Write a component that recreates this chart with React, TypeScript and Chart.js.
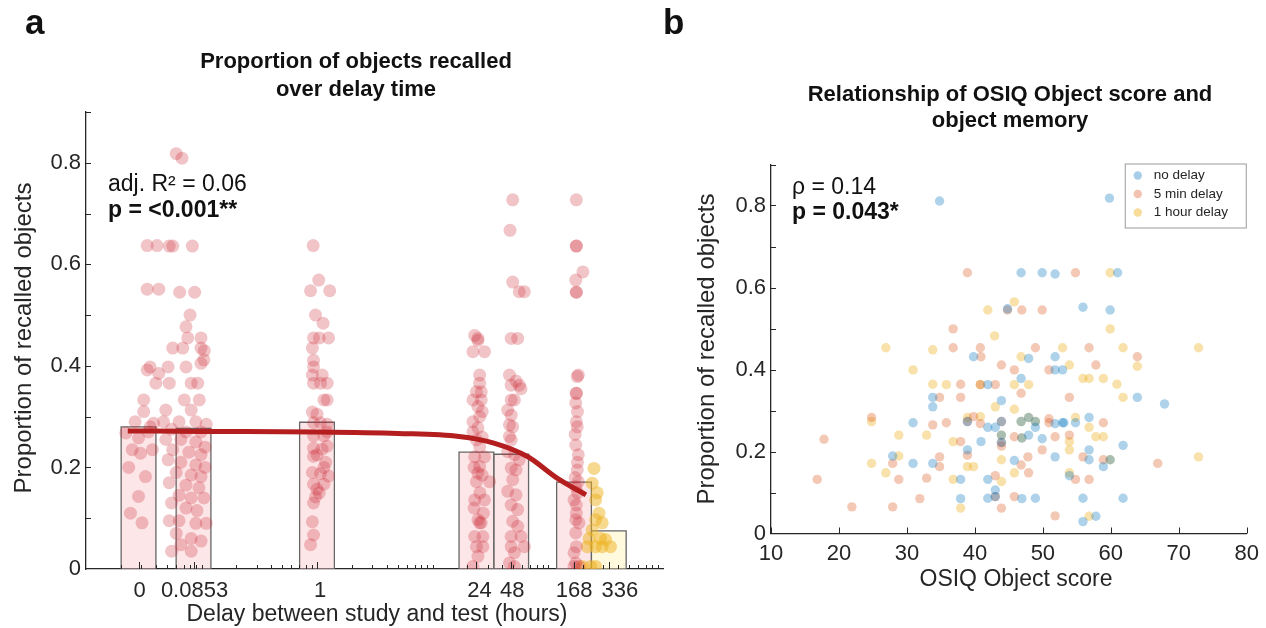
import React, { useEffect, useRef } from "react";
import { Chart, registerables } from "chart.js";

Chart.register(...registerables);

// ================= Panel a data =================
const DELAY_LABELS = ["0", "0.0853", "1", "24", "48", "168", "336"];
const DELAY_HOURS = [0, 0.0853, 1, 24, 48, 168, 336];
const ZERO_HOURS_POSITION = 0.0285; // where the "0" group sits on the log axis
const MEAN_RECALL = [0.28, 0.277, 0.289, 0.23, 0.226, 0.171, 0.075];
const Y_TICKS = [0, 0.2, 0.4, 0.6, 0.8];
const Y_MINOR_TICKS = [0.1, 0.2, 0.3, 0.4, 0.5, 0.6, 0.7, 0.8, 0.9];

// individual participants: [horizontal jitter (decades), proportion recalled]
const DOTS_0H = [
  [0.075, 0.637], [0.16, 0.637], [0.075, 0.551], [0.175, 0.551], [0.1, 0.398], [0.075, 0.392],
  [0.175, 0.385], [0.15, 0.366], [0.045, 0.333], [0.045, 0.31], [-0.11, 0.268], [-0.055, 0.235],
  [0.017, 0.228], [0, 0.258], [0.12, 0.235], [0.06, 0.182], [0, 0.143], [-0.07, 0.11],
  [0.03, 0.091], [0.13, 0.287], [-0.085, 0.2], [0.085, 0.27], [0.1, 0.28], [-0.03, 0.29],
];
const DOTS_0085H = [
  [-0.15, 0.818], [-0.1, 0.809], [-0.21, 0.636], [-0.18, 0.636], [-0.01, 0.636], [-0.12, 0.545],
  [0.01, 0.545], [-0.03, 0.5], [-0.065, 0.477], [-0.05, 0.455], [0.065, 0.455], [-0.18, 0.435],
  [-0.093, 0.435], [0.065, 0.435], [0.093, 0.43], [-0.22, 0.398], [-0.065, 0.398], [0.065, 0.405],
  [0.09, 0.412], [-0.21, 0.366], [-0.02, 0.366], [0.036, 0.366], [-0.08, 0.333], [0.05, 0.333],
  [-0.24, 0.313], [-0.02, 0.313], [-0.26, 0.29], [-0.125, 0.29], [0.02, 0.29], [0.11, 0.285],
  [-0.19, 0.275], [-0.065, 0.27], [0.065, 0.27], [-0.24, 0.255], [-0.11, 0.255], [0.02, 0.25],
  [0.1, 0.24], [-0.18, 0.235], [-0.04, 0.23], [0.065, 0.225], [-0.22, 0.215], [-0.11, 0.21],
  [0.02, 0.205], [0.1, 0.2], [-0.15, 0.19], [-0.02, 0.185], [0.065, 0.182], [-0.21, 0.17],
  [-0.065, 0.165], [0.047, 0.16], [-0.125, 0.145], [-0.02, 0.14], [0.09, 0.14], [-0.19, 0.13],
  [-0.065, 0.12], [0.03, 0.115], [-0.21, 0.095], [-0.125, 0.095], [0.02, 0.09], [0.11, 0.09],
  [-0.15, 0.07], [-0.02, 0.06], [0.065, 0.055], [-0.11, 0.048], [-0.02, 0.035], [-0.19, 0.035],
];
const DOTS_1H = [
  [-0.033, 0.637], [0.015, 0.569], [-0.056, 0.548], [0.11, 0.548], [-0.013, 0.5], [0.053, 0.484],
  [-0.03, 0.455], [0.02, 0.455], [0.1, 0.455], [-0.04, 0.435], [-0.03, 0.411], [-0.03, 0.398],
  [-0.04, 0.382], [0.045, 0.382], [-0.03, 0.366], [0.088, 0.366], [0.03, 0.366], [0.088, 0.333],
  [0.06, 0.333], [-0.04, 0.309], [0, 0.305], [-0.03, 0.288], [0.03, 0.288], [0.088, 0.285],
  [-0.03, 0.262], [0.06, 0.262], [0.088, 0.27], [-0.03, 0.238], [0.045, 0.236], [0.088, 0.242],
  [0, 0.225], [-0.03, 0.222], [-0.04, 0.19], [0.03, 0.188], [0.1, 0.183], [-0.03, 0.167],
  [0.06, 0.167], [0, 0.157], [-0.013, 0.142], [-0.03, 0.13], [-0.04, 0.093], [-0.03, 0.067],
  [-0.056, 0.048], [0.06, 0.2], [0.075, 0.21], [0.02, 0.15],
];
const DOTS_24H = [
  [0.013, 0.454], [-0.015, 0.46], [0.013, 0.45], [-0.03, 0.428], [0.07, 0.428], [0.028, 0.382],
  [0.028, 0.366], [0, 0.349], [0.042, 0.349], [-0.03, 0.333], [0.042, 0.333], [0.013, 0.32],
  [0.028, 0.3], [0.013, 0.278], [0, 0.254], [0.028, 0.241], [-0.015, 0.221], [0.07, 0.221],
  [0.028, 0.202], [0.013, 0.189], [0.114, 0.172], [0, 0.172], [-0.015, 0.136], [0.07, 0.136],
  [0.013, 0.097], [0.042, 0.091], [0.028, 0.091], [-0.015, 0.064], [0.056, 0.064], [0, 0.044],
  [0.056, 0.044], [0.013, 0.025], [-0.03, 0.005], [-0.03, 0.29], [0.05, 0.26], [-0.02, 0.2],
  [0.05, 0.185], [0.03, 0.15], [-0.02, 0.12], [0.06, 0.11], [-0.03, 0.27], [0.05, 0.31],
];
const DOTS_48H = [
  [0.013, 0.727], [-0.01, 0.667], [0.013, 0.565], [0.07, 0.546], [0.114, 0.546], [0, 0.454],
  [0.056, 0.454], [-0.015, 0.382], [0.042, 0.37], [0, 0.362], [0.07, 0.362], [0.085, 0.355],
  [0, 0.333], [0.028, 0.333], [-0.03, 0.313], [0, 0.303], [-0.015, 0.284], [0.013, 0.28],
  [-0.015, 0.261], [0, 0.254], [-0.03, 0.231], [0.028, 0.225], [0.07, 0.215], [0, 0.199],
  [0.042, 0.195], [0.013, 0.176], [-0.03, 0.153], [0.042, 0.146], [0, 0.126], [0.056, 0.117],
  [0.013, 0.094], [0.056, 0.084], [0, 0.064], [0.085, 0.064], [0, 0.044], [0.114, 0.044],
  [0.028, 0.032], [-0.015, 0.012], [0.028, 0.005],
];
const DOTS_168H = [
  [0.02, 0.727], [0.02, 0.636], [0.02, 0.636], [0.077, 0.585], [0.015, 0.569], [0.02, 0.545],
  [0.02, 0.545], [0.028, 0.379], [0.037, 0.382], [0.02, 0.346], [0.02, 0.346], [0.015, 0.327],
  [0.02, 0.29], [0.028, 0.28], [0.015, 0.244], [0.037, 0.225], [0.028, 0.195], [0.037, 0.172],
  [0.015, 0.162], [0, 0.136], [0.02, 0.126], [0.015, 0.097], [0.043, 0.091], [0.015, 0.071],
  [0.02, 0.044], [0, 0.032], [0.015, 0.012], [0.043, 0.005], [0, 0.005], [0.03, 0.31],
  [0.01, 0.265], [0.03, 0.21], [0.01, 0.18], [0.03, 0.15], [0.02, 0.11],
];
const DOTS_336H = [
  [-0.128, 0.198], [-0.144, 0.169], [-0.114, 0.136], [-0.085, 0.11], [-0.114, 0.097],
  [-0.144, 0.077], [-0.057, 0.091], [-0.186, 0.044], [-0.114, 0.044], [-0.057, 0.044],
  [0.015, 0.044], [-0.028, 0.058], [-0.23, 0.005], [-0.157, 0.005], [-0.114, 0.005],
  [-0.1, 0.15], [-0.07, 0.06], [-0.17, 0.06],
];
const GROUP_DOTS = [DOTS_0H, DOTS_0085H, DOTS_1H, DOTS_24H, DOTS_48H, DOTS_168H, DOTS_336H];

// model fit
const FIT_HOURS = [0.023, 0.1, 1, 5, 17, 34, 67, 118, 213];
const FIT_RECALL = [0.272, 0.271, 0.27, 0.267, 0.261, 0.248, 0.221, 0.18, 0.146];

// ================= Panel b data =================
const SCORE_TICKS = [10, 20, 30, 40, 50, 60, 70, 80];
const NO_DELAY = [
  [34.8, 0.811], [59.8, 0.818], [46.8, 0.636], [49.9, 0.636], [51.8, 0.633], [61.0, 0.636],
  [44.8, 0.548], [55.9, 0.552], [59.9, 0.545], [39.8, 0.431], [47.9, 0.427], [51.8, 0.431],
  [51.8, 0.399], [52.9, 0.399], [46.8, 0.378], [41.9, 0.363], [33.8, 0.332], [63.9, 0.332],
  [33.8, 0.309], [43.9, 0.324], [67.9, 0.316], [30.9, 0.27], [38.9, 0.273], [41.9, 0.259],
  [43.0, 0.259], [43.9, 0.273], [46.8, 0.273], [47.9, 0.283], [48.9, 0.273], [48.9, 0.259],
  [51.8, 0.268], [52.9, 0.27], [53.1, 0.27], [54.8, 0.27], [56.8, 0.283], [43.9, 0.24],
  [46.9, 0.233], [47.9, 0.24], [49.9, 0.231], [40.9, 0.224], [43.9, 0.222], [61.8, 0.215],
  [38.9, 0.204], [56.8, 0.204], [27.9, 0.189], [51.8, 0.187], [56.8, 0.18], [59.9, 0.18],
  [30.9, 0.171], [33.8, 0.171], [45.8, 0.178], [58.9, 0.163], [53.9, 0.141], [37.9, 0.132],
  [41.9, 0.132], [43.0, 0.106], [43.0, 0.09], [41.9, 0.086], [37.9, 0.085], [46.9, 0.085],
  [48.9, 0.086], [55.9, 0.086], [61.8, 0.086], [57.8, 0.042], [55.9, 0.029],
];
const MIN5_DELAY = [
  [38.9, 0.636], [54.8, 0.636], [44.8, 0.545], [46.9, 0.545], [49.9, 0.545], [36.8, 0.499],
  [36.8, 0.453], [40.8, 0.453], [48.9, 0.453], [56.8, 0.453], [40.9, 0.431], [63.9, 0.431],
  [43.9, 0.411], [45.8, 0.399], [50.9, 0.399], [57.8, 0.411], [37.9, 0.364], [40.8, 0.363],
  [43.0, 0.363], [46.8, 0.342], [34.8, 0.332], [37.9, 0.332], [53.9, 0.332], [24.8, 0.283],
  [33.8, 0.265], [35.8, 0.27], [38.9, 0.273], [39.8, 0.285], [40.8, 0.268], [43.9, 0.273],
  [50.9, 0.28], [50.9, 0.27], [58.9, 0.27], [45.8, 0.236], [51.8, 0.236], [53.9, 0.24],
  [17.8, 0.23], [37.9, 0.224], [43.9, 0.222], [43.9, 0.213], [49.9, 0.204], [34.8, 0.187],
  [38.9, 0.191], [47.8, 0.187], [55.9, 0.187], [58.9, 0.18], [27.9, 0.171], [34.8, 0.163],
  [46.8, 0.167], [66.9, 0.171], [47.9, 0.148], [16.8, 0.132], [28.8, 0.132], [32.9, 0.135],
  [43.0, 0.141], [54.8, 0.132], [56.8, 0.132], [43.0, 0.09], [31.9, 0.085], [45.8, 0.09],
  [21.9, 0.065], [27.9, 0.065], [43.9, 0.062], [51.8, 0.043],
];
const HOUR1_DELAY = [
  [59.9, 0.636], [45.8, 0.565], [41.9, 0.545], [59.9, 0.499], [42.9, 0.482], [26.9, 0.453],
  [33.8, 0.448], [52.9, 0.453], [61.8, 0.453], [72.9, 0.453], [46.8, 0.431], [30.9, 0.399],
  [53.9, 0.411], [63.9, 0.408], [55.9, 0.378], [56.8, 0.378], [58.9, 0.378], [33.8, 0.364],
  [35.8, 0.363], [40.8, 0.363], [45.8, 0.363], [47.9, 0.363], [60.9, 0.364], [61.8, 0.332],
  [43.0, 0.309], [45.8, 0.303], [24.8, 0.273], [38.9, 0.283], [40.8, 0.285], [46.8, 0.273],
  [47.9, 0.283], [48.9, 0.273], [54.8, 0.283], [56.8, 0.259], [28.8, 0.24], [32.9, 0.24],
  [43.9, 0.24], [46.9, 0.233], [53.9, 0.224], [57.8, 0.236], [58.9, 0.236], [36.8, 0.224],
  [53.9, 0.204], [28.8, 0.189], [59.9, 0.18], [72.9, 0.187], [24.8, 0.171], [38.9, 0.163],
  [39.8, 0.163], [43.9, 0.18], [26.9, 0.148], [45.8, 0.148], [53.9, 0.148], [36.8, 0.132],
  [43.9, 0.127], [37.9, 0.062], [56.8, 0.042],
];
const SERIES_NAMES = ["no delay", "5 min delay", "1 hour delay"];

// ================= styles =================
const FONT = '"Liberation Sans", Arial, Helvetica, sans-serif';
const AXIS = "#262626";
const TEXT = "#111111";
const RED_DOT = "rgba(205, 40, 52, 0.27)";
const YELLOW_DOT = "rgba(237, 177, 32, 0.5)";
const PINK_BAR = "rgba(248, 200, 205, 0.45)";
const YELLOW_BAR = "rgba(255, 245, 190, 0.5)";
const BAR_EDGE = "#666666";
const FIT_COLOR = "#b41e1e";
const SERIES_COLORS = ["rgba(0, 114, 189, 0.32)", "rgba(217, 83, 25, 0.32)", "rgba(237, 177, 32, 0.38)"];
const LEGEND_COLORS = ["rgba(0, 114, 189, 0.35)", "rgba(217, 83, 25, 0.35)", "rgba(237, 177, 32, 0.45)"];
const TICK_LABEL_NUDGE = [1, 1, 3, 3, 1, 0, 11]; // small horizontal label offsets, px

const pos = (h: number) => (h === 0 ? ZERO_HOURS_POSITION : h);

function txt(ctx: CanvasRenderingContext2D, s: string, x: number, y: number, font: string, align: CanvasTextAlign = "left", color = TEXT) {
  ctx.font = font;
  ctx.textAlign = align;
  ctx.textBaseline = "middle";
  ctx.fillStyle = color;
  ctx.fillText(s, x, y);
}

const leftDecor = {
  id: "leftDecor",
  afterDraw(chart: any) {
    const ctx: CanvasRenderingContext2D = chart.ctx;
    const { left, bottom } = chart.chartArea;
    const xs = chart.scales.x;
    const ys = chart.scales.y;
    ctx.save();
    ctx.strokeStyle = AXIS;
    ctx.lineWidth = 1;
    ctx.beginPath();
    Y_MINOR_TICKS.forEach((v) => {
      const py = Math.round(ys.getPixelForValue(v)) + 0.5;
      ctx.moveTo(left, py);
      ctx.lineTo(left + 5, py);
    });
    for (let e = -2; e <= 2; e++) {
      for (let m = 1; m <= 9; m++) {
        const v = m * Math.pow(10, e);
        if (v <= xs.min || v >= xs.max) continue;
        const px = Math.round(xs.getPixelForValue(v)) + 0.5;
        ctx.moveTo(px, bottom);
        ctx.lineTo(px, bottom - 4);
      }
    }
    DELAY_HOURS.forEach((h) => {
      const px = Math.round(xs.getPixelForValue(pos(h))) + 0.5;
      ctx.moveTo(px, bottom);
      ctx.lineTo(px, bottom - 7);
    });
    ctx.stroke();

    DELAY_HOURS.forEach((h, i) => {
      const px = xs.getPixelForValue(pos(h)) + TICK_LABEL_NUDGE[i];
      txt(ctx, DELAY_LABELS[i], px, 591, `22px ${FONT}`, "center", AXIS);
    });

    txt(ctx, "a", 25, 24, `bold 35px ${FONT}`);
    txt(ctx, "Proportion of objects recalled", 356, 62, `bold 22px ${FONT}`, "center");
    txt(ctx, "over delay time", 356, 90, `bold 22px ${FONT}`, "center");
    txt(ctx, "adj. R\u00B2 = 0.06", 108, 185, `23px ${FONT}`);
    txt(ctx, "p = <0.001**", 108, 211, `bold 23px ${FONT}`);
    txt(ctx, "Delay between study and test (hours)", 377, 615, `23px ${FONT}`, "center", AXIS);
    ctx.translate(24, 338);
    ctx.rotate(-Math.PI / 2);
    txt(ctx, "Proportion of recalled objects", 0, 0, `24px ${FONT}`, "center", AXIS);
    ctx.restore();
  },
};

const OX = 650;
const rightDecor = {
  id: "rightDecor",
  afterDraw(chart: any) {
    const ctx: CanvasRenderingContext2D = chart.ctx;
    const { left, right, top, bottom } = chart.chartArea;
    const xs = chart.scales.x;
    const ys = chart.scales.y;
    ctx.save();
    ctx.strokeStyle = AXIS;
    ctx.lineWidth = 1;
    ctx.beginPath();
    Y_MINOR_TICKS.forEach((v) => {
      const py = Math.round(ys.getPixelForValue(v)) + 0.5;
      ctx.moveTo(left, py);
      ctx.lineTo(left + 5, py);
    });
    SCORE_TICKS.forEach((v) => {
      const px = Math.round(xs.getPixelForValue(v)) + 0.5;
      ctx.moveTo(px, bottom);
      ctx.lineTo(px, bottom - 6);
    });
    ctx.stroke();

    // legend box
    const bw = 122;
    const bh = 65;
    const bx = right - bw;
    const by = top - 1;
    ctx.fillStyle = "#ffffff";
    ctx.fillRect(bx, by, bw, bh);
    ctx.strokeStyle = "#9a9a9a";
    ctx.strokeRect(bx + 0.5, by + 0.5, bw - 1, bh - 1);
    chart.data.datasets.forEach((ds: any, i: number) => {
      const ly = by + 12 + i * 18.5;
      ctx.beginPath();
      ctx.fillStyle = LEGEND_COLORS[i];
      ctx.arc(bx + 13, ly, 4.2, 0, Math.PI * 2);
      ctx.fill();
      txt(ctx, ds.label, bx + 29, ly, `13.5px ${FONT}`, "left", AXIS);
    });

    txt(ctx, "b", 663 - OX, 24, `bold 35px ${FONT}`);
    txt(ctx, "Relationship of OSIQ Object score and", 1010 - OX, 95, `bold 22px ${FONT}`, "center");
    txt(ctx, "object memory", 1010 - OX, 121, `bold 22px ${FONT}`, "center");
    txt(ctx, "\u03C1 = 0.14", 792 - OX, 188, `23px ${FONT}`);
    txt(ctx, "p = 0.043*", 792 - OX, 213, `bold 23px ${FONT}`);
    txt(ctx, "OSIQ Object score", 1016 - OX, 580, `23px ${FONT}`, "center", AXIS);
    ctx.translate(707 - OX, 349);
    ctx.rotate(-Math.PI / 2);
    txt(ctx, "Proportion of recalled objects", 0, 0, `24px ${FONT}`, "center", AXIS);
    ctx.restore();
  },
};

function leftConfig(): any {
  const datasets: any[] = [];
  DELAY_HOURS.forEach((h, i) => {
    const c = pos(h);
    const lo = c / Math.SQRT2;
    const hi = c * Math.SQRT2;
    datasets.push({
      type: "line",
      data: [
        { x: lo, y: 0 },
        { x: lo, y: MEAN_RECALL[i] },
        { x: hi, y: MEAN_RECALL[i] },
        { x: hi, y: 0 },
      ],
      fill: "origin",
      backgroundColor: i === 6 ? YELLOW_BAR : PINK_BAR,
      borderColor: BAR_EDGE,
      borderWidth: 1.3,
      pointRadius: 0,
      tension: 0,
      order: 3,
    });
  });
  GROUP_DOTS.forEach((grp, i) => {
    const c = pos(DELAY_HOURS[i]);
    datasets.push({
      type: "scatter",
      data: grp.map(([j, y]) => ({ x: c * Math.pow(10, j), y })),
      backgroundColor: i === 6 ? YELLOW_DOT : RED_DOT,
      pointBackgroundColor: i === 6 ? YELLOW_DOT : RED_DOT,
      pointRadius: 6.5,
      borderWidth: 0,
      pointBorderWidth: 0,
      order: 2,
    });
  });
  datasets.push({
    type: "line",
    data: FIT_HOURS.map((x, i) => ({ x, y: FIT_RECALL[i] })),
    borderColor: FIT_COLOR,
    borderWidth: 5,
    pointRadius: 0,
    fill: false,
    cubicInterpolationMode: "monotone",
    order: 1,
  });
  return {
    type: "scatter",
    data: { datasets },
    options: {
      responsive: false,
      animation: false,
      events: [],
      layout: { padding: { left: 0, right: 5, top: 112, bottom: 0 } },
      plugins: { legend: { display: false }, tooltip: { enabled: false }, title: { display: false } },
      scales: {
        x: {
          type: "logarithmic",
          min: 0.01,
          max: 1000,
          grid: { display: false, drawTicks: false },
          border: { display: true, color: AXIS, width: 1.3 },
          afterBuildTicks: (s: any) => {
            s.ticks = DELAY_HOURS.map((h) => ({ value: pos(h) }));
          },
          ticks: { display: false, autoSkip: false },
          afterFit: (s: any) => {
            s.height = 59;
          },
        },
        y: {
          type: "linear",
          min: 0,
          max: 0.9,
          grid: { display: false, drawTicks: false },
          border: { display: true, color: AXIS, width: 1.3 },
          afterBuildTicks: (s: any) => {
            s.ticks = Y_TICKS.map((v) => ({ value: v }));
          },
          ticks: {
            padding: 5,
            color: AXIS,
            font: { size: 22, family: FONT },
            callback: (v: number) => (v === 0 ? "0" : v.toFixed(1)),
          },
          afterFit: (s: any) => {
            s.width = 86;
          },
        },
      },
    },
    plugins: [leftDecor],
  };
}

function rightConfig(): any {
  const series = [NO_DELAY, MIN5_DELAY, HOUR1_DELAY];
  return {
    type: "scatter",
    data: {
      datasets: series.map((pts, i) => ({
        label: SERIES_NAMES[i],
        data: pts.map(([x, y]) => ({ x, y })),
        backgroundColor: SERIES_COLORS[i],
        pointBackgroundColor: SERIES_COLORS[i],
        pointRadius: 4.7,
        borderWidth: 0,
        pointBorderWidth: 0,
      })),
    },
    options: {
      responsive: false,
      animation: false,
      events: [],
      layout: { padding: { left: 0, right: 18, top: 164.5, bottom: 0 } },
      plugins: { legend: { display: false }, tooltip: { enabled: false }, title: { display: false } },
      scales: {
        x: {
          type: "linear",
          min: 10,
          max: 80,
          grid: { display: false, drawTicks: false },
          border: { display: true, color: AXIS, width: 1.3 },
          afterBuildTicks: (s: any) => {
            s.ticks = SCORE_TICKS.map((v) => ({ value: v }));
          },
          ticks: {
            autoSkip: false,
            maxRotation: 0,
            padding: 7,
            color: AXIS,
            font: { size: 22, family: FONT },
          },
          afterFit: (s: any) => {
            s.height = 94.5;
          },
        },
        y: {
          type: "linear",
          min: 0,
          max: 0.9,
          grid: { display: false, drawTicks: false },
          border: { display: true, color: AXIS, width: 1.3 },
          afterBuildTicks: (s: any) => {
            s.ticks = Y_TICKS.map((v) => ({ value: v }));
          },
          ticks: {
            padding: 5,
            color: AXIS,
            font: { size: 22, family: FONT },
            callback: (v: number) => (v === 0 ? "0" : v.toFixed(1)),
          },
          afterFit: (s: any) => {
            s.width = 121;
          },
        },
      },
    },
    plugins: [rightDecor],
  };
}

export default function App() {
  const leftRef = useRef<HTMLCanvasElement>(null);
  const rightRef = useRef<HTMLCanvasElement>(null);
  useEffect(() => {
    const a = new Chart(leftRef.current as HTMLCanvasElement, leftConfig());
    const b = new Chart(rightRef.current as HTMLCanvasElement, rightConfig());
    return () => {
      a.destroy();
      b.destroy();
    };
  }, []);
  return (
    <div style={{ position: "fixed", left: 0, top: 0, width: 1266, height: 628, background: "#ffffff" }}>
      <canvas ref={leftRef} width={670} height={628} style={{ position: "absolute", left: 0, top: 0 }} />
      <canvas ref={rightRef} width={616} height={628} style={{ position: "absolute", left: 650, top: 0 }} />
    </div>
  );
}
